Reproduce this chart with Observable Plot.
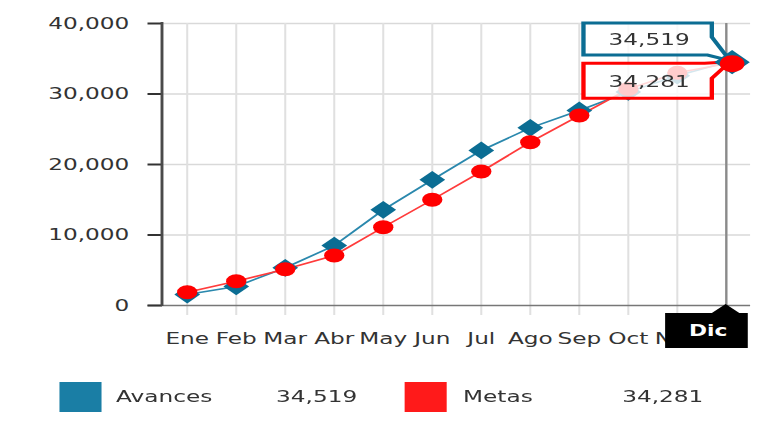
<!DOCTYPE html>
<html><head><meta charset="utf-8">
<script src="https://cdn.jsdelivr.net/npm/d3@7"></script>
<script src="https://cdn.jsdelivr.net/npm/@observablehq/plot@0.6"></script>
<style>
html,body{margin:0;padding:0;background:#fff;overflow:hidden}
#wrap{width:533px;height:423px;transform:scaleX(1.4503);transform-origin:0 0;position:relative;font-family:"DejaVu Sans",Verdana,sans-serif}
#legend{position:absolute;left:0;top:360px;width:533px;height:63px;font-size:16px;color:#333}
#legend .sw{position:absolute;top:22px;width:28.3px;height:30px}
#legend .tx{position:absolute;top:22px;line-height:30px;white-space:nowrap}
</style></head><body><div id="wrap"><div id="chart"></div><div id="legend"></div></div>
<script>
const months = ["Ene","Feb","Mar","Abr","May","Jun","Jul","Ago","Sep","Oct","Nov","Dic"];
const avances = [1560,2700,5350,8500,13570,17830,21990,25200,27660,30300,32600,34519];
const metas = [1890,3450,5150,7100,11100,15000,19000,23160,26950,30700,33000,34281];
const yTicks = [0,10000,20000,30000,40000];
const seriesNames = ["Avances","Metas"];
const markerColors = ["#0b6d93","#ff0000"];
const lineColors = ["#2a88ad","#ff3b3b"];
const swatchColors = ["#1a7ea5","#ff1a1a"];
const totals = [34519, 34281];
const hoverMonth = "Dic";

const fmt = d3.format(",");
const rows = months.map((m,i)=>({month:m, avances:avances[i], metas:metas[i]}));
const normal = rows.filter(d=>d.month!==hoverMonth);
const hover = rows.filter(d=>d.month===hoverMonth);

function yAxisLine(index, scales, values, dim){
  const g = d3.create("svg:g");
  g.append("line").attr("x1",dim.marginLeft).attr("x2",dim.marginLeft)
    .attr("y1",dim.marginTop-1).attr("y2",dim.height-dim.marginBottom+1)
    .attr("stroke","#4a4a4a").attr("stroke-width",2);
  return g.node();
}

function tooltips(index, scales, values, dim){
  const g = d3.create("svg:g");
  const px = scales.x(hoverMonth);
  const left = px-98, right = px-9.5;
  // Avances
  let py = scales.y(totals[0]);
  let top = py-38.6, bottom = py-6.6;
  g.append("path")
    .attr("d",`M${left},${top}H${right}V${top+14}L${px+3},${py-1}L${right-3},${bottom}H${left}Z`)
    .attr("fill","rgba(255,255,255,0.8)").attr("stroke",markerColors[0]).attr("stroke-width",3).attr("stroke-linejoin","miter");
  g.append("text").attr("x",(left+right)/2+1).attr("y",(top+bottom)/2).attr("dy","0.36em")
    .attr("text-anchor","middle").attr("font-size",16).attr("fill","#333").text(fmt(totals[0]));
  // Metas
  py = scales.y(totals[1]);
  top = py; bottom = py+35;
  g.append("path")
    .attr("d",`M${left},${top}H${right-5}L${px+3},${py-1.5}L${right},${top+15}V${bottom}H${left}Z`)
    .attr("fill","rgba(255,255,255,0.8)").attr("stroke",markerColors[1]).attr("stroke-width",3).attr("stroke-linejoin","miter");
  g.append("text").attr("x",(left+right)/2+1).attr("y",(top+bottom)/2).attr("dy","0.36em")
    .attr("text-anchor","middle").attr("font-size",16).attr("fill","#333").text(fmt(totals[1]));
  return g.node();
}

function hoverLabel(index, scales, values, dim){
  const g = d3.create("svg:g");
  const px = scales.x(hoverMonth);
  const yb = scales.y(0);
  g.append("path").attr("d",`M${px},${yb-1}L${px-10},${yb+8.5}L${px+10},${yb+8.5}Z`).attr("fill","#000");
  g.append("rect").attr("x",px-41.7).attr("y",yb+8).attr("width",57).attr("height",35).attr("fill","#000");
  g.append("text").attr("x",px-12).attr("y",yb+25.5).attr("dy","0.36em").attr("text-anchor","middle")
    .attr("font-size",15).attr("font-weight","bold").attr("fill","#fff").text(hoverMonth);
  return g.node();
}

const chart = Plot.plot({
  width: 533,
  height: 360,
  marginLeft: 111.7,
  marginRight: 15.8,
  marginTop: 23,
  marginBottom: 55,
  style: {fontFamily: '"DejaVu Sans", Verdana, sans-serif', background: "#fff", overflow: "visible"},
  x: {type: "point", domain: months, padding: 0.5, round: false},
  y: {domain: [0, 40000]},
  marks: [
    Plot.ruleY(yTicks.slice(1), {stroke: "#d9d9d9", strokeWidth: 1.5}),
    Plot.ruleX(months, {x: d=>d, stroke: "#e0e0e0", strokeWidth: 1.4, insetBottom: -10}),
    Plot.ruleX([hoverMonth], {x: d=>d, stroke: "#8a8a8a", strokeWidth: 1.6}),
    Plot.ruleY([0], {stroke: "#777", strokeWidth: 1.5, insetLeft: -10}),
    Plot.axisY({ticks: yTicks, tickSize: 10, tickPadding: 13, tickFormat: fmt, fontSize: 16, color: "#333", strokeWidth: 2, label: null}),
    Plot.axisX({tickSize: 0, tickPadding: 27, fontSize: 16, color: "#333", label: null}),
    yAxisLine,
    Plot.line(rows, {x: "month", y: "avances", stroke: lineColors[0], strokeWidth: 1.6}),
    Plot.line(rows, {x: "month", y: "metas", stroke: lineColors[1], strokeWidth: 1.6}),
    Plot.dot(normal, {x: "month", y: "avances", symbol: "diamond2", r: 8, fill: markerColors[0]}),
    Plot.dot(normal, {x: "month", y: "metas", symbol: "circle", r: 7, fill: markerColors[1]}),
    tooltips,
    Plot.dot(hover, {x: "month", y: "avances", symbol: "diamond2", r: 11, fill: markerColors[0], dx: 4}),
    Plot.dot(hover, {x: "month", y: "metas", symbol: "circle", r: 8.5, fill: markerColors[1], dx: 4}),
    hoverLabel
  ]
});
document.getElementById("chart").appendChild(chart);

const legend = d3.select("#legend");
const legendX = [{sw:41.4, name:80, val:190.3},{sw:279.3, name:319.3, val:429}];
seriesNames.forEach((n,i)=>{
  legend.append("div").attr("class","sw").style("left",legendX[i].sw+"px").style("background",swatchColors[i]);
  legend.append("div").attr("class","tx").style("left",legendX[i].name+"px").text(n);
  legend.append("div").attr("class","tx").style("left",legendX[i].val+"px").text(fmt(totals[i]));
});
</script>
</body></html>
